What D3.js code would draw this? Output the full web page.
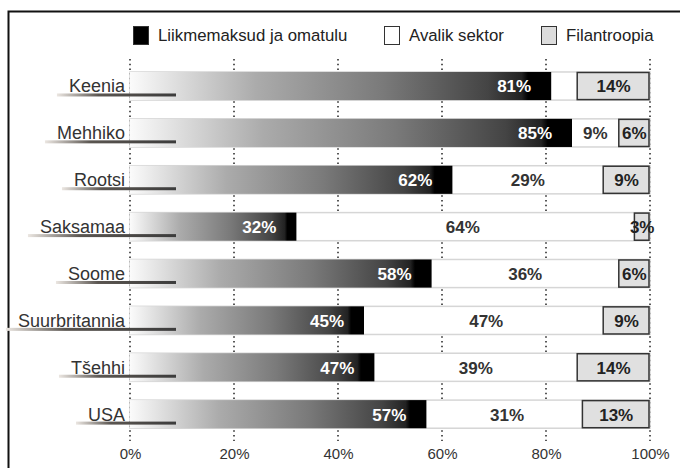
<!DOCTYPE html>
<html>
<head>
<meta charset="utf-8">
<script src="https://cdn.jsdelivr.net/npm/d3@7"></script>
<style>
  html, body { margin: 0; padding: 0; background: #fff; }
  svg { display: block; font-family: "Liberation Sans", Arial, sans-serif; }
</style>
</head>
<body>
<svg id="chart" width="680" height="468"></svg>
<script>
const categories = ["Keenia", "Mehhiko", "Rootsi", "Saksamaa", "Soome", "Suurbritannia", "Tšehhi", "USA"];
const liikmemaksud = [81, 85, 62, 32, 58, 45, 47, 57];
const avalikSektor = [5, 9, 29, 64, 36, 47, 39, 31];
const filantroopia = [14, 6, 9, 3, 6, 9, 14, 13];
const seriesNames = ["Liikmemaksud ja omatulu", "Avalik sektor", "Filantroopia"];
const tickValues = [0, 20, 40, 60, 80, 100];

const rows = categories.map((c, i) => ({
  cat: c, a: liikmemaksud[i], b: avalikSektor[i], c: filantroopia[i]
}));

const svg = d3.select("#chart");
const defs = svg.append("defs");

const g1 = defs.append("linearGradient").attr("id", "gradMain")
  .attr("x1", "0").attr("x2", "1").attr("y1", "0").attr("y2", "0");
[[0, "#fbfbfb"], [0.3, "#ababab"], [0.6, "#7a7a7a"], [0.85, "#444"], [0.93, "#222"], [0.945, "#000"], [1, "#000"]]
  .forEach(([o, c]) => g1.append("stop").attr("offset", o).attr("stop-color", c));

const g2 = defs.append("linearGradient").attr("id", "gradLine")
  .attr("x1", "0").attr("x2", "1").attr("y1", "0").attr("y2", "0");
[[0, "#ebe6e1"], [0.35, "#5a5550"], [1, "#3c3c3c"]]
  .forEach(([o, c]) => g2.append("stop").attr("offset", o).attr("stop-color", c));

const x = d3.scaleLinear().domain([0, 100]).range([130, 650]);
const y = d3.scaleBand().domain(categories).range([62.6, 437.6]).paddingInner(0.4).paddingOuter(0.2);

// frame
svg.append("path").attr("d", "M8.5,468V11.5H680").attr("fill", "none").attr("stroke", "#111").attr("stroke-width", 2);

// legend
const legendX = [133, 384, 541];
const legendFill = ["#000", "#fff", "#dcdcdc"];
const leg = svg.append("g").selectAll("g").data(seriesNames).join("g")
  .attr("transform", (d, i) => `translate(${legendX[i]},26)`);
leg.append("rect").attr("x", 0.5).attr("y", 0.5).attr("width", 15).attr("height", 18)
  .attr("fill", (d, i) => legendFill[i]).attr("stroke", "#333").attr("stroke-width", 1);
leg.append("text").attr("x", 25).attr("y", 14.5)
  .attr("font-size", 16.8).attr("fill", "#222").text(d => d);

// gridlines
svg.append("g").selectAll("line").data(tickValues).join("line")
  .attr("x1", d => x(d)).attr("x2", d => x(d)).attr("y1", 59).attr("y2", 441)
  .attr("stroke", "#222").attr("stroke-width", 1.5).attr("stroke-dasharray", "1.5,3.2");

// bars
const row = svg.append("g").selectAll("g").data(rows).join("g")
  .attr("transform", d => `translate(0,${y(d.cat)})`);
const bh = y.bandwidth();

row.append("rect").attr("x", x(0)).attr("y", 0).attr("width", x(100) - x(0)).attr("height", bh)
  .attr("fill", "#fff").attr("stroke", "#d6d6d6").attr("stroke-width", 1.5);
row.append("rect").attr("x", x(0)).attr("y", 0).attr("width", d => x(d.a) - x(0)).attr("height", bh)
  .attr("fill", "url(#gradMain)");
row.append("rect").attr("x", d => x(100 - d.c)).attr("y", 0.5).attr("width", d => x(100) - x(100 - d.c) - 1)
  .attr("height", bh - 1).attr("fill", "#e0e0e0").attr("stroke", "#333").attr("stroke-width", 1.5);

// category labels
row.append("text").attr("x", 125).attr("y", 20.5).attr("text-anchor", "end")
  .attr("font-size", 18).attr("fill", "#333").text(d => d.cat);
row.insert("rect", "text").attr("class", "uline")
  .attr("y", 21.5).attr("height", 3).attr("fill", "url(#gradLine)");
row.each(function (d) {
  const t = d3.select(this).select("text").node();
  const w = t.getComputedTextLength();
  const start = 125 - w - 12;
  d3.select(this).select("rect.uline").attr("x", start).attr("width", 176 - start);
});

// value labels
row.append("text").attr("x", d => x(d.a) - 20).attr("y", 20.5).attr("text-anchor", "end")
  .attr("font-size", 17).attr("font-weight", "bold").attr("fill", "#fff").text(d => d.a + "%");
row.filter(d => d.b >= 6).append("text")
  .attr("x", d => (x(d.a) + x(d.a + d.b)) / 2).attr("y", 20.5).attr("text-anchor", "middle")
  .attr("font-size", 17).attr("font-weight", "bold").attr("fill", "#333").text(d => d.b + "%");
row.append("text").attr("x", d => (x(100 - d.c) + x(100)) / 2).attr("y", 20.5).attr("text-anchor", "middle")
  .attr("font-size", 17).attr("font-weight", "bold").attr("fill", "#222").text(d => d.c + "%");

// axis
const axis = d3.axisBottom(x).tickValues(tickValues).tickFormat(d => d + "%").tickSize(0).tickPadding(0);
const ag = svg.append("g").attr("transform", "translate(0,448.5)").call(axis);
ag.select(".domain").remove();
ag.selectAll("text").attr("font-size", 15).attr("fill", "#333").attr("font-family", "Liberation Sans, Arial, sans-serif");
</script>
</body>
</html>
